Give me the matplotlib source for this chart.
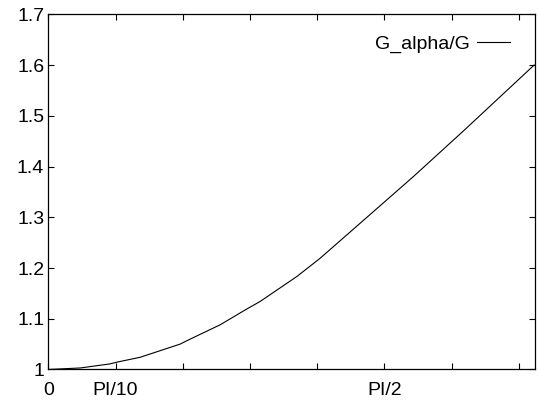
import numpy as np
import matplotlib
matplotlib.use("Agg")
import matplotlib.pyplot as plt

plt.rcParams['font.family'] = ['Liberation Sans', 'DejaVu Sans']

# values
x = [0.0, 0.15, 0.288, 0.327, 0.429, 0.616, 0.654, 0.803, 0.927, 0.990,
     1.161, 1.270, 1.457, 1.706, 1.784, 1.940, 2.271]
g_ratio = [1.000, 1.003, 1.011, 1.015, 1.024, 1.050, 1.058, 1.088, 1.119, 1.134,
           1.183, 1.219, 1.288, 1.380, 1.410, 1.470, 1.600]

xticks = [k * np.pi / 10 for k in range(8)]
xlabels = ['0', 'PI/10', '', '', '', 'PI/2', '', '']
yticks = [1.0, 1.1, 1.2, 1.3, 1.4, 1.5, 1.6, 1.7]
ylabels = ['1', '1.1', '1.2', '1.3', '1.4', '1.5', '1.6', '1.7']

fig = plt.figure(figsize=(5.39, 4.01), dpi=100)
ax = fig.add_axes([0.0896, 0.0786, 0.9030, 0.8857])
ax.plot(x, g_ratio, color='black', lw=0.8, label='G_alpha/G')

ax.set_xlim(0, 2.275)
ax.set_ylim(1.0, 1.7)
ax.set_xticks(xticks)
ax.set_xticklabels(xlabels)
ax.set_yticks(yticks)
ax.set_yticklabels(ylabels)
ax.tick_params(direction='in', length=4, width=0.8, top=True, right=True,
               labelsize=14, colors='black')
ax.tick_params(axis='x', pad=9)
ax.tick_params(axis='y', pad=3)
for s in ax.spines.values():
    s.set_linewidth(0.9)

ax.legend(loc='upper right', frameon=False, markerfirst=False, fontsize=14,
          handlelength=1.7, handletextpad=0.4, borderaxespad=0.5,
          bbox_to_anchor=(0.985, 0.99))

fig.savefig('out.png', dpi=100)
